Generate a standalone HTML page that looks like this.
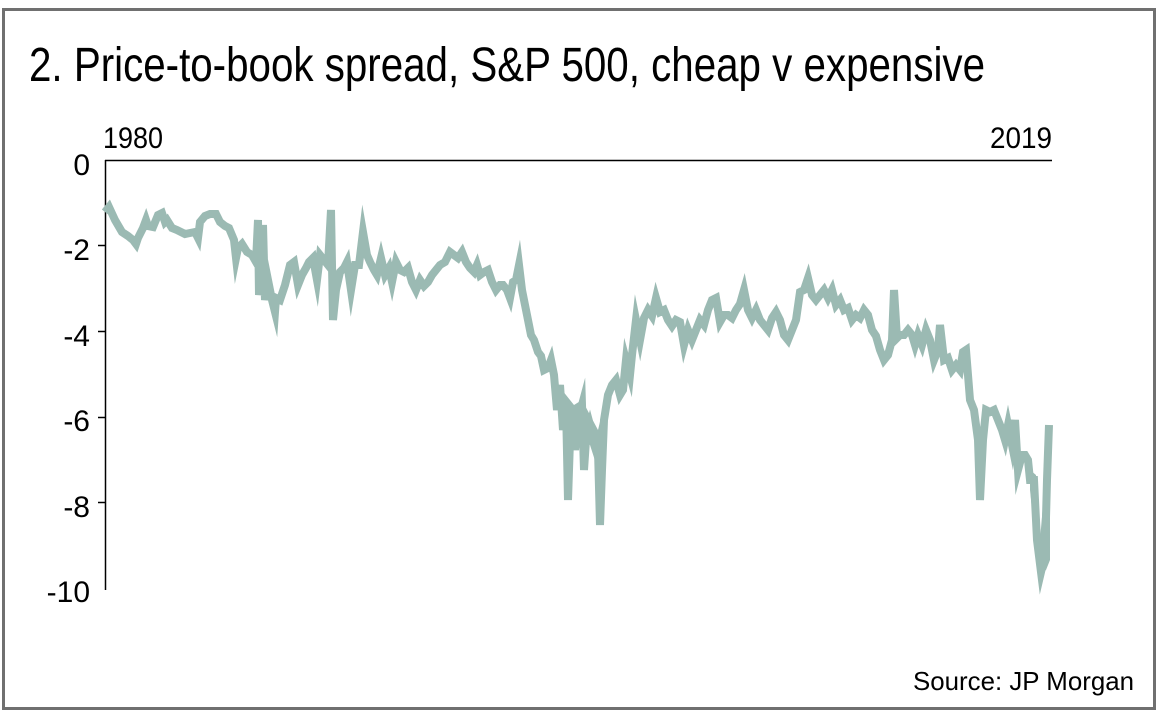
<!DOCTYPE html>
<html><head><meta charset="utf-8"><style>
html,body{margin:0;padding:0;background:#fff;}
svg{display:block;}
</style></head><body>
<svg width="1160" height="716" viewBox="0 0 1160 716" xmlns="http://www.w3.org/2000/svg" font-family="'Liberation Sans', sans-serif">
<rect x="0" y="0" width="1160" height="716" fill="#fff"/>
<rect x="3.5" y="9.5" width="1151" height="699" fill="none" stroke="#707070" stroke-width="3"/>
<text x="29" y="81" font-size="48" textLength="956" lengthAdjust="spacingAndGlyphs" fill="#000">2. Price-to-book spread, S&amp;P 500, cheap v expensive</text>
<text x="103" y="148" font-size="30" textLength="60" lengthAdjust="spacingAndGlyphs">1980</text>
<text x="1052" y="148" font-size="30" text-anchor="end" textLength="62" lengthAdjust="spacingAndGlyphs">2019</text>
<g font-size="30" text-anchor="end">
<text x="90" y="175">0</text>
<text x="90" y="260">-2</text>
<text x="90" y="346">-4</text>
<text x="90" y="431">-6</text>
<text x="90" y="517">-8</text>
<text x="90" y="602">-10</text>
</g>
<g stroke="#000" stroke-width="1.5">
<line x1="105" y1="160.5" x2="1052" y2="160.5"/>
<line x1="105.5" y1="160" x2="105.5" y2="590"/>
<line x1="98" y1="245.5" x2="105" y2="245.5"/>
<line x1="98" y1="331.5" x2="105" y2="331.5"/>
<line x1="98" y1="417.5" x2="105" y2="417.5"/>
<line x1="98" y1="502.5" x2="105" y2="502.5"/>
</g>
<g fill="#9bbab3">
<polygon points="552,365 558,385 566,395 574,405 582,400 590,415 598,430 604,405 610,385 610,400 604,450 598,470 590,445 582,440 574,450 566,440 558,410 552,380"/>
<polygon points="1030,470 1036,475 1040,540 1046,470 1050,425 1050,560 1046,570 1040,575 1036,545 1030,490"/>
</g>
<polyline fill="none" stroke="#9bbab3" stroke-width="8" stroke-linejoin="miter" stroke-miterlimit="8" points="105,212 109,207 115,220 122,232 128,236 133,240 136,244 138,238 143,228 146,220 148,226 153,227 158,215 162,213 165,222 167,220 172,228 177,230 185,234 190,233 195,232 198,238 200,222 205,216 210,214 216,214 220,222 225,226 229,228 234,240 236,258 238,248 242,244 247,252 252,255 256,262 258,220 259,295 262,270 263,225 265,300 268,280 272,300 275,312 276,298 280,300 285,285 290,265 294,262 298,285 302,275 306,268 309,262 313,258 317,280 320,255 324,260 328,265 331,210 333,320 336,290 340,272 344,268 347,262 351,290 355,265 359,265 363,232 367,255 370,262 374,270 377,275 381,258 385,275 389,268 392,282 396,262 400,270 404,272 408,268 412,282 416,290 420,280 424,286 428,282 432,275 436,270 440,265 445,262 450,252 454,255 458,258 462,252 466,262 470,268 474,272 477,265 480,275 484,272 488,270 492,282 496,290 500,285 503,285 507,290 510,298 513,282 516,280 519,265 522,290 525,305 528,320 531,335 534,340 538,352 541,356 544,370 548,368 551,360 554,375 557,410 560,385 563,430 566,405 568,500 570,440 572,410 575,450 578,420 582,405 584,470 586,440 590,425 594,440 598,450 600,525 602,470 604,420 608,395 612,385 616,380 620,395 623,390 626,360 630,375 632,355 636,320 640,340 644,318 648,310 652,316 656,298 660,312 664,310 668,320 672,326 676,320 680,322 684,345 688,330 692,340 696,330 700,320 704,325 708,310 712,300 716,298 720,322 724,315 728,315 732,318 736,310 740,304 744,290 748,310 752,318 756,310 760,320 764,325 768,330 772,318 776,312 780,320 784,335 788,340 792,330 796,320 800,292 804,290 808,278 812,295 816,300 820,295 824,290 828,298 832,290 836,305 840,300 844,310 848,308 852,320 856,315 860,318 864,310 868,315 872,330 876,336 880,350 884,360 888,355 892,340 894,290 897,338 900,335 904,335 908,330 912,335 915,345 918,335 922,345 926,330 930,340 934,360 938,350 940,325 944,360 948,358 952,370 956,365 960,370 963,352 966,350 970,400 974,410 978,440 980,500 983,440 986,410 990,412 994,410 998,420 1002,430 1005,440 1008,425 1012,445 1015,420 1018,470 1022,455 1025,455 1028,460 1030,480 1034,480 1037,540 1041,572 1045,555 1047,480 1049,425"/>
<text x="1134" y="690" font-size="26" text-anchor="end" textLength="221" lengthAdjust="spacingAndGlyphs">Source: JP Morgan</text>
</svg>
</body></html>
